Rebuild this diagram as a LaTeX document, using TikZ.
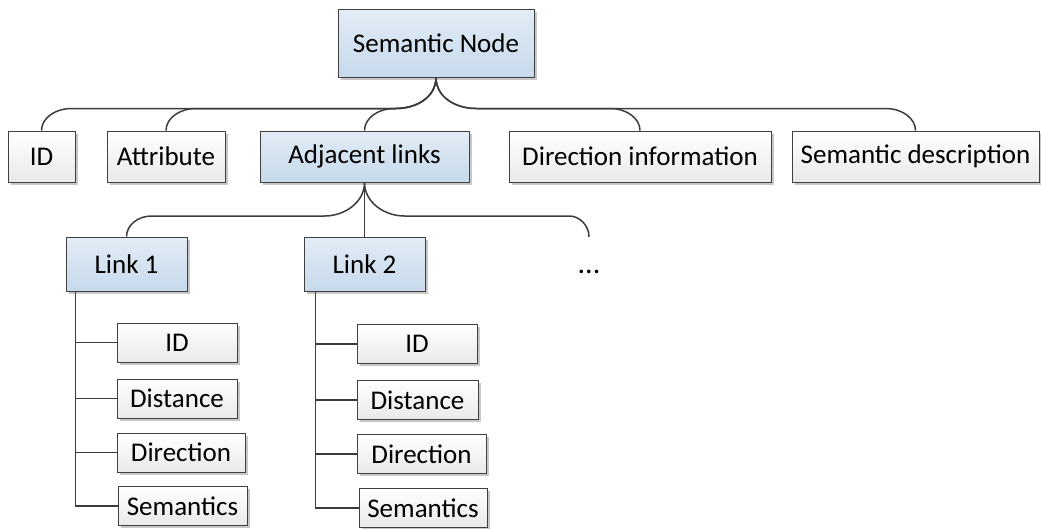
\documentclass[tikz,border=0pt]{standalone}
\usepackage{fontspec}
\setmainfont{Carlito}
\usetikzlibrary{calc,shadows}
\definecolor{bordc}{HTML}{404040}
\definecolor{linec}{HTML}{3C3C3C}
\definecolor{bluetop}{HTML}{E3ECF6}
\definecolor{bluebot}{HTML}{C6D9EB}
\definecolor{greytop}{HTML}{FFFFFF}
\definecolor{greybot}{HTML}{E9E9E9}
\begin{document}
\begin{tikzpicture}[x=1pt,y=-1pt,
  box/.style={draw=bordc, line width=0.9pt, inner sep=0pt,
    font=\fontsize{27}{31}\selectfont,
    drop shadow={shadow xshift=2.5pt, shadow yshift=-2.5pt, fill=black, opacity=0.22}},
  wbox/.style={box, top color=greytop, bottom color=greybot},
  bbox/.style={box, top color=bluetop, bottom color=bluebot},
  conn/.style={draw=linec, line width=1.5pt},
  subbox/.style={wbox, minimum height=39pt}
]
\useasboundingbox (0,0) rectangle (1041,528);

% level 0
\node[bbox, minimum width=196pt, minimum height=68pt] (sn) at (436,43) {Semantic Node};

% level 1
\node[wbox, minimum width=67pt, minimum height=51pt] (id) at (41.5,156.5) {ID};
\node[wbox, minimum width=118pt, minimum height=51pt] (attr) at (166,156.5) {Attribute};
\node[bbox, minimum width=209pt, minimum height=51pt] (adj) at (364.5,156.5) {Adjacent links};
\node[wbox, minimum width=262pt, minimum height=51pt] (dir) at (640,156.5) {Direction information};
\node[wbox, minimum width=247pt, minimum height=51pt] (sd) at (915.5,156.5) {Semantic description};

% level 2
\node[bbox, minimum width=121pt, minimum height=54pt] (l1) at (126.5,264) {Link 1};
\node[bbox, minimum width=121pt, minimum height=54pt] (l2) at (364.5,264) {Link 2};
\node[font=\fontsize{30}{34}\selectfont, inner sep=0pt, minimum height=54pt, minimum width=30pt] (dots) at (589,264) {\raisebox{-9pt}[0pt][0pt]{...}};

% level 3 (link 1)
\node[subbox, minimum width=120pt] (a1) at (177,342.5) {ID};
\node[subbox, minimum width=120pt] (a2) at (177,398.5) {Distance};
\node[subbox, minimum width=128pt] (a3) at (181,452.5) {Direction};
\node[subbox, minimum width=129pt] (a4) at (182.5,506) {Semantics};

% level 3 (link 2)
\node[subbox, minimum width=120pt] (b1) at (417,344) {ID};
\node[subbox, minimum width=121pt] (b2) at (417.5,400) {Distance};
\node[subbox, minimum width=129pt] (b3) at (421.5,454) {Direction};
\node[subbox, minimum width=128pt] (b4) at (423,508) {Semantics};

\coordinate (bus1) at (0,108.5);
\coordinate (bus2) at (0,216);

% connectors level 0 -> 1 (left)
\foreach \c in {id,attr,adj}{
  \draw[conn] (sn.south) .. controls ($(sn.south)+(0,20)$) and ($(sn.south |- bus1)+(-20,0)$) .. ($(sn.south |- bus1)+(-40,0)$)
    -- ($(\c.north |- bus1)+(30,0)$) .. controls ($(\c.north |- bus1)+(13,0)$) and ($(\c.north)+(0,-12)$) .. (\c.north);
}
% connectors level 0 -> 1 (right)
\foreach \c in {dir,sd}{
  \draw[conn] (sn.south) .. controls ($(sn.south)+(0,20)$) and ($(sn.south |- bus1)+(20,0)$) .. ($(sn.south |- bus1)+(40,0)$)
    -- ($(\c.north |- bus1)+(-30,0)$) .. controls ($(\c.north |- bus1)+(-13,0)$) and ($(\c.north)+(0,-12)$) .. (\c.north);
}

% connectors level 1 -> 2
\draw[conn] (adj.south) -- (l2.north);
\draw[conn] (adj.south) .. controls ($(adj.south)+(0,20)$) and ($(adj.south |- bus2)+(-20,0)$) .. ($(adj.south |- bus2)+(-40,0)$)
  -- ($(l1.north |- bus2)+(25,0)$) .. controls ($(l1.north |- bus2)+(11,0)$) and ($(l1.north)+(0,-11)$) .. (l1.north);
\draw[conn] (adj.south) .. controls ($(adj.south)+(0,20)$) and ($(adj.south |- bus2)+(20,0)$) .. ($(adj.south |- bus2)+(40,0)$)
  -- ($(dots.north |- bus2)+(-20,0)$) .. controls ($(dots.north |- bus2)+(-9,0)$) and ($(dots.north)+(0,-11)$) .. (dots.north);

% connectors level 2 -> 3
\foreach \c in {a1,a2,a3,a4}{
  \draw[conn] ($(l1.south west)+(10,0)$) |- (\c.west);
}
\foreach \c in {b1,b2,b3,b4}{
  \draw[conn] ($(l2.south west)+(12,0)$) |- (\c.west);
}
\end{tikzpicture}
\end{document}
